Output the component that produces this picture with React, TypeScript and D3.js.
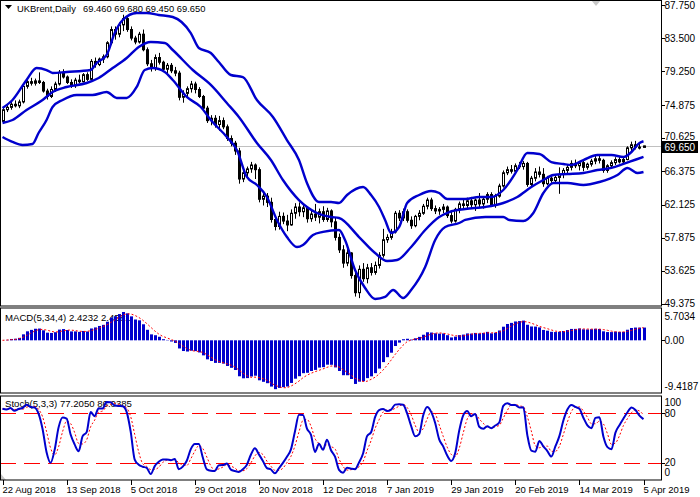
import React from 'react';
import * as d3 from 'd3';

// ---- Daily OHLC, UKBrent, 22 Aug 2018 .. 5 Apr 2019 (161 bars) ----
const opens = [72.8,74.3,74.6,75.0,74.8,75.3,77.3,77.9,77.7,78.0,77.8,76.7,76.0,76.9,77.6,79.1,78.5,77.8,77.4,78.1,
77.9,78.8,78.2,80.5,80.1,80.8,81.1,82.9,84.6,84.0,85.2,86.0,84.6,83.5,83.0,84.0,82.0,80.2,79.6,81.0,
80.4,79.5,80.0,79.3,79.0,75.9,76.4,77.0,77.6,76.9,76.0,74.5,72.9,73.2,72.4,72.9,72.1,70.6,70.0,69.0,
65.4,66.2,66.7,67.2,66.6,62.8,63.2,62.4,60.2,59.3,60.6,60.0,59.5,61.0,61.8,61.2,61.7,60.3,60.9,60.5,
61.2,60.2,61.3,59.9,57.9,56.3,54.6,55.9,53.0,50.8,53.8,52.6,54.0,53.4,54.3,55.6,57.6,57.9,58.6,61.0,
60.4,61.2,60.1,59.4,60.6,61.0,61.9,62.7,61.6,61.3,61.5,61.8,60.7,60.0,61.5,62.2,62.0,62.6,62.1,62.7,
62.2,62.8,63.4,62.1,63.2,64.5,66.2,66.6,66.4,67.1,67.0,67.4,64.7,65.5,66.3,66.0,64.8,65.5,65.2,65.6,
66.0,66.5,66.9,67.4,67.1,67.5,66.9,67.3,67.7,68.0,67.8,66.5,67.1,67.5,67.9,67.6,67.9,69.4,69.8,69.5,69.46];
const highs = [74.6,75.0,75.3,75.5,75.6,77.6,78.3,78.4,78.3,79.1,78.0,77.0,77.3,77.9,79.4,79.5,78.7,78.2,78.4,78.8,
79.0,79.1,80.8,81.0,81.0,81.4,83.1,85.0,85.0,85.5,86.5,86.2,85.0,83.8,84.3,84.6,82.3,80.7,81.4,81.6,
80.6,80.3,80.3,79.8,79.3,76.8,77.3,78.0,77.9,77.2,76.2,74.8,73.6,73.6,73.5,73.3,72.4,71.0,70.3,69.4,
66.5,67.0,67.6,67.4,66.9,63.7,63.6,63.0,60.6,61.2,61.1,60.8,61.5,62.3,62.4,62.1,61.9,61.4,62.2,61.6,
61.9,61.7,61.5,60.4,58.4,56.9,56.7,56.0,53.5,54.3,54.6,54.5,54.6,54.8,56.0,59.0,58.3,59.0,61.3,61.4,
61.6,61.5,60.6,60.8,61.4,62.2,63.0,63.0,62.0,61.8,62.2,62.0,61.2,61.7,62.5,62.9,63.0,63.1,62.9,63.6,
63.1,63.7,63.7,63.5,64.8,66.5,67.0,67.2,67.4,67.6,67.7,67.6,65.8,66.8,67.0,66.8,65.8,65.9,66.0,66.9,
66.8,67.2,67.8,67.9,67.7,67.8,67.5,68.0,68.4,68.5,68.0,67.3,67.8,68.2,68.3,68.1,69.6,70.2,70.3,70.1,69.68];
const lows = [72.5,74.0,74.3,74.6,74.5,75.1,77.0,77.4,77.4,77.6,76.5,75.6,75.8,76.6,77.4,78.3,77.6,77.1,77.1,77.7,
77.8,78.0,78.0,79.7,79.9,80.3,80.9,82.6,83.3,83.6,84.4,84.3,83.2,82.7,82.8,81.8,79.9,79.2,79.3,80.1,
79.3,78.8,79.0,78.6,75.5,75.2,75.9,76.5,76.4,75.8,74.2,72.6,72.3,72.0,71.6,71.8,70.3,69.6,68.5,64.8,
65.0,65.6,66.2,65.4,62.4,62.0,61.8,59.8,58.8,58.9,59.6,58.7,59.4,60.3,60.6,60.5,59.8,59.9,60.0,59.7,
59.9,59.9,59.2,57.5,55.9,54.0,54.2,52.6,50.3,50.1,52.2,52.0,53.0,53.1,53.9,55.3,57.2,57.6,58.4,60.0,
60.0,59.8,59.0,59.2,60.1,60.8,61.5,61.3,60.9,60.8,61.0,60.4,59.7,59.8,61.0,61.5,61.6,61.7,61.3,61.8,
61.6,62.3,61.8,61.7,63.0,64.3,65.9,66.1,66.2,66.7,66.6,64.4,64.5,65.1,65.6,64.4,64.6,64.9,64.8,63.5,
65.5,66.0,66.5,66.8,66.5,66.4,66.6,67.0,67.3,67.4,66.2,66.2,66.8,67.2,67.4,67.3,67.8,69.0,69.2,69.2,69.45];
const closes = [74.3,74.6,75.0,74.8,75.3,77.3,77.9,77.7,78.0,77.8,76.7,76.0,76.9,77.6,79.1,78.5,77.8,77.4,78.1,77.9,
78.8,78.2,80.5,80.1,80.8,81.1,82.9,84.6,84.0,85.2,86.0,84.6,83.5,83.0,84.0,82.0,80.2,79.6,81.0,80.4,
79.5,80.0,79.3,79.0,75.9,76.4,77.0,77.6,76.9,76.0,74.5,72.9,73.2,72.4,72.9,72.1,70.6,70.0,69.0,65.4,
66.2,66.7,67.2,66.6,62.8,63.2,62.4,60.2,59.3,60.6,60.0,59.5,61.0,61.8,61.2,61.7,60.3,60.9,60.5,61.2,
60.2,61.3,59.9,57.9,56.3,54.6,55.9,53.0,50.8,53.8,52.6,54.0,53.4,54.3,55.6,57.6,57.9,58.6,61.0,60.4,
61.2,60.1,59.4,60.6,61.0,61.9,62.7,61.6,61.3,61.5,61.8,60.7,60.0,61.5,62.2,62.0,62.6,62.1,62.7,62.2,
62.8,63.4,62.1,63.2,64.5,66.2,66.6,66.4,67.1,67.0,67.4,64.7,65.5,66.3,66.0,64.8,65.5,65.2,65.6,66.0,
66.5,66.9,67.4,67.1,67.5,66.9,67.3,67.7,68.0,67.8,66.5,67.1,67.5,67.9,67.6,67.9,69.4,69.8,69.5,69.46,69.65];

// ---- Bollinger Bands (20,2): [bar index, price] ----
const upperBand: [number, number][] = [[0,74.52],[2.5,75.55],[6,78.12],[8.5,79.66],[11,79.40],[12.5,79.02],[16,79.15],[22,79.40],[23.5,80.30],[26,81.33],[28,84.15],[30,85.82],[33.5,86.72],[36,86.72],[39,86.47],[42.5,86.21],[47,84.15],[49,82.23],[52,81.59],[54,80.43],[57,78.76],[60,78.50],[63.5,75.55],[67.5,73.37],[71,70.41],[74,67.84],[76,64.89],[79,62.45],[82,62.45],[84,62.32],[86,63.35],[90,64.37],[92,63.35],[94,61.81],[95.5,60.14],[97,58.47],[99,59.24],[101,62.32],[104,63.35],[107,63.86],[109,63.60],[111,62.83],[115.5,62.83],[119,63.09],[122,63.09],[125,63.99],[128.5,66.56],[131,68.74],[134,68.61],[137,67.58],[140,67.33],[142,67.20],[145,67.84],[148.5,68.48],[152,68.48],[155,68.23],[157,68.87],[159,70.03],[160,70.25]];
const middleBand: [number, number][] = [[0,72.59],[2.5,72.98],[6,74.27],[10,75.55],[12.5,76.58],[16,77.22],[21,77.73],[24,78.37],[27.5,79.66],[31,80.94],[34,82.36],[37,83.00],[40.5,82.87],[42.5,81.97],[47.5,79.40],[52,77.48],[56,75.16],[59,73.37],[63.5,70.03],[67,67.84],[70,65.27],[74,62.70],[78.5,61.04],[82,60.52],[84,60.39],[89,57.95],[93,55.90],[96,54.87],[98.5,55.00],[102,56.67],[105.5,58.85],[109,60.52],[111.5,61.16],[115.5,61.55],[120.5,61.81],[125,62.32],[128.5,63.09],[132,64.37],[135,65.27],[137.5,65.92],[141,66.04],[145,66.17],[148.5,66.56],[152,66.82],[155,67.33],[158.5,67.97],[160,68.23]];
const lowerBand: [number, number][] = [[0,70.80],[2.5,70.16],[5,69.77],[7.5,69.90],[9,71.31],[11,72.98],[12.5,74.65],[15,75.55],[18.5,76.19],[22.5,76.19],[26,76.58],[28.5,75.81],[31,75.81],[33.5,77.22],[35.5,79.40],[37.5,79.66],[40.5,79.15],[42.5,78.12],[46,75.94],[49.5,74.65],[52,72.98],[56,70.80],[58.5,69.13],[61,65.66],[63.5,64.63],[66,63.09],[68.5,60.14],[71,57.95],[73.5,56.67],[75,56.93],[77.5,58.21],[80,58.60],[84,58.85],[85.5,57.57],[88,53.71],[90.5,51.40],[93,49.99],[95.5,50.25],[97.5,51.15],[100,50.12],[102,51.15],[105.5,54.10],[108,57.57],[110.5,59.24],[114,59.75],[115.5,60.14],[120.5,60.52],[125,60.52],[126.5,60.14],[130,60.01],[132.5,61.04],[135,63.60],[137.5,64.89],[141,64.89],[145,64.63],[149,65.02],[153.5,65.92],[156,66.82],[158.5,66.17],[160,66.30]];

// ---- axis labels ----
const dateTickIdx = [0,16,32,48,64,80,96,112,128,144,160];
const dateLabels = ['22 Aug 2018','13 Sep 2018','5 Oct 2018','29 Oct 2018','20 Nov 2018','12 Dec 2018','7 Jan 2019','29 Jan 2019','20 Feb 2019','14 Mar 2019','5 Apr 2019'];
const priceTicks = [87.75,83.5,79.25,74.875,70.625,66.375,62.125,57.875,53.625,49.375];
const priceTickLabels = ['87.750','83.500','79.250','74.875','70.625','66.375','62.125','57.875','53.625','49.375'];
const macdRange = [-9.4187, 5.7034];
const stochLevels = [20, 80];
const lastPrice = 69.65;
const headerSymbol = 'UKBrent,Daily';
const headerValues = '69.460 69.680 69.450 69.650';
const macdLabel = 'MACD(5,34,4) 2.4232 2.4581';
const stochLabel = 'Stoch(5,3,3) 77.2050 86.0385';

// ---- indicator calculations (standard MT4 definitions) ----
function ema(arr: number[], n: number) {
  const k = 2 / (n + 1);
  const out: number[] = [];
  let prev = arr[0];
  arr.forEach((v, i) => { prev = i === 0 ? v : v * k + prev * (1 - k); out.push(prev); });
  return out;
}
function sma(arr: number[], n: number) {
  return arr.map((_, i) => { const s = arr.slice(Math.max(0, i - n + 1), i + 1); return d3.mean(s) as number; });
}
const emaFast = ema(closes, 5);
const emaSlow = ema(closes, 34);
const macdMain = closes.map((_, i) => emaFast[i] - emaSlow[i]);
const macdSignal = sma(macdMain, 4);
const lo5 = lows.map((_, i) => d3.min(lows.slice(Math.max(0, i - 4), i + 1)) as number);
const hi5 = highs.map((_, i) => d3.max(highs.slice(Math.max(0, i - 4), i + 1)) as number);
const stochK = closes.map((_, i) => {
  let num = 0, den = 0;
  for (let j = Math.max(0, i - 2); j <= i; j++) { num += closes[j] - lo5[j]; den += hi5[j] - lo5[j]; }
  return den === 0 ? 50 : (100 * num) / den;
});
const stochD = sma(stochK, 3);

const W = 700, H = 497;
const PR = 661; // right edge of plotting area
const FONT = "'Liberation Sans', Arial, sans-serif";

export default function App() {
  const x = d3.scaleLinear().domain([0, 160]).range([2.5, 643.5]);
  const y = d3.scaleLinear().domain([49.09, 88.392]).range([306, 0]);
  const ym = d3.scaleLinear().domain(macdRange).range([392, 309]);
  const ys = d3.scaleLinear().domain([0, 100]).range([479, 397]);

  const bandLine = d3.line<[number, number]>().x(d => x(d[0])).y(d => y(d[1])).curve(d3.curveMonotoneX);
  const idx = closes.map((_, i) => i);
  const macdSigLine = d3.line<number>().x(i => x(i)).y(i => ym(macdSignal[i]));
  const kLine = d3.line<number>().x(i => x(i)).y(i => ys(stochK[i])).curve(d3.curveMonotoneX);
  const dLine = d3.line<number>().x(i => x(i)).y(i => ys(stochD[i])).curve(d3.curveMonotoneX);
  const blue = '#0000cd';
  const lastY = Math.round(y(lastPrice));

  return (
    <svg width={W} height={H} style={{ position: 'fixed', left: 0, top: 0, background: '#fff' }} fontFamily={FONT}>
      <defs>
        <clipPath id="cMain"><rect x={1} y={1} width={PR - 1} height={305} /></clipPath>
        <clipPath id="cMacd"><rect x={1} y={309} width={PR - 1} height={84} /></clipPath>
        <clipPath id="cSto"><rect x={1} y={397} width={PR - 1} height={83} /></clipPath>
      </defs>
      <rect x={0} y={0} width={W} height={H} fill="#fff" />

      {/* ===== Main panel ===== */}
      <g clipPath="url(#cMain)">
        <line x1={0} x2={PR} y1={lastY + 0.5} y2={lastY + 0.5} stroke="#c0c0c0" />
        {idx.map(i => {
          const cx = Math.round(x(i));
          const o = opens[i], c = closes[i];
          const bull = c >= o;
          const top = y(Math.max(o, c)), bot = y(Math.min(o, c));
          return (
            <g key={i}>
              <line x1={cx + 0.5} x2={cx + 0.5} y1={y(highs[i])} y2={y(lows[i])} stroke="#000" strokeWidth={1} />
              <rect x={cx - 0.5} y={top} width={2} height={Math.max(1, bot - top)}
                fill={bull ? '#fff' : '#000'} stroke="#000" strokeWidth={1} />
            </g>
          );
        })}
        <path d={bandLine(upperBand) || ''} fill="none" stroke={blue} strokeWidth={2.4} />
        <path d={bandLine(middleBand) || ''} fill="none" stroke={blue} strokeWidth={2.4} />
        <path d={bandLine(lowerBand) || ''} fill="none" stroke={blue} strokeWidth={2.4} />
      </g>
      <polygon points="5,5 12,5 8.5,9" fill="#000" />
      <text x={17} y={12} fontSize={9.4} fill="#000">{headerSymbol}</text>
      <text x={83} y={12} fontSize={9.4} fill="#000">{headerValues}</text>
      <polygon points="591,0 601,0 596,6" fill="#c8c8c8" />

      {/* ===== MACD panel ===== */}
      <text x={5} y={321} fontSize={9.6} fill="#000">{macdLabel}</text>
      <g clipPath="url(#cMacd)">
        {idx.map(i => {
          const v = macdMain[i];
          const y0 = ym(0), y1 = ym(v);
          return <rect key={i} x={Math.round(x(i)) - 1} y={Math.min(y0, y1)} width={3} height={Math.abs(y1 - y0)} fill={blue} />;
        })}
        <path d={macdSigLine(idx) || ''} fill="none" stroke="#ff0000" strokeWidth={1} strokeDasharray="2,2" />
      </g>

      {/* ===== Stochastic panel ===== */}
      <text x={5} y={407} fontSize={9.6} fill="#000">{stochLabel}</text>
      <g clipPath="url(#cSto)">
        {stochLevels.map(l => (
          <line key={l} x1={0} x2={PR} y1={Math.round(ys(l)) + 0.5} y2={Math.round(ys(l)) + 0.5} stroke="#ff0000" strokeWidth={1} strokeDasharray="16,8" />
        ))}
        <path d={dLine(idx) || ''} fill="none" stroke="#ff0000" strokeWidth={1} strokeDasharray="2,2" />
        <path d={kLine(idx) || ''} fill="none" stroke={blue} strokeWidth={2} />
      </g>
      <polygon points="1,474 1,480 6,480" fill="#c8c8c8" />

      {/* ===== frames ===== */}
      <rect x={0.5} y={0.5} width={PR} height={305.5} fill="none" stroke="#000" />
      <rect x={0.5} y={308} width={PR} height={85} fill="none" stroke="#000" />
      <rect x={0.5} y={396} width={PR} height={84} fill="none" stroke="#000" />

      {/* price axis */}
      {priceTicks.map((p, k) => {
        const ty = Math.round(y(p));
        const nearLast = Math.abs(ty - lastY) < 12;
        return (
          <g key={p}>
            <line x1={PR} x2={PR + 4} y1={ty + 0.5} y2={ty + 0.5} stroke="#000" />
            <text x={PR + 3.5} y={nearLast ? lastY - 6 : y(p) + 3.5} fontSize={10} fill="#000">{priceTickLabels[k]}</text>
          </g>
        );
      })}
      <rect x={PR} y={lastY - 5} width={37} height={12} fill="#000" />
      <text x={PR + 3.5} y={lastY + 4.5} fontSize={10} fill="#fff">{lastPrice.toFixed(3)}</text>

      {/* MACD axis */}
      <text x={PR + 3.5} y={320} fontSize={10} fill="#000">{macdRange[1].toFixed(4)}</text>
      <line x1={PR} x2={PR + 4} y1={Math.round(ym(0)) + 0.5} y2={Math.round(ym(0)) + 0.5} stroke="#000" />
      <text x={PR + 3.5} y={ym(0) + 3.5} fontSize={10} fill="#000">0.00</text>
      <text x={PR + 3.5} y={390} fontSize={10} fill="#000">{macdRange[0].toFixed(4)}</text>

      {/* Stoch axis */}
      <text x={PR + 3.5} y={406} fontSize={10} fill="#000">100</text>
      {stochLevels.map(l => (
        <g key={l}>
          <line x1={PR} x2={PR + 4} y1={Math.round(ys(l)) + 0.5} y2={Math.round(ys(l)) + 0.5} stroke="#000" />
          <text x={PR + 3.5} y={ys(l) + 3.5} fontSize={10} fill="#000">{l}</text>
        </g>
      ))}
      <text x={PR + 3.5} y={476} fontSize={10} fill="#000">0</text>

      {/* time axis */}
      {dateTickIdx.map((t, k) => (
        <g key={t}>
          <line x1={Math.round(x(t)) + 0.5} x2={Math.round(x(t)) + 0.5} y1={480} y2={485} stroke="#000" />
          <text x={x(t)} y={493} fontSize={9.5} fill="#000">{dateLabels[k]}</text>
        </g>
      ))}
    </svg>
  );
}
